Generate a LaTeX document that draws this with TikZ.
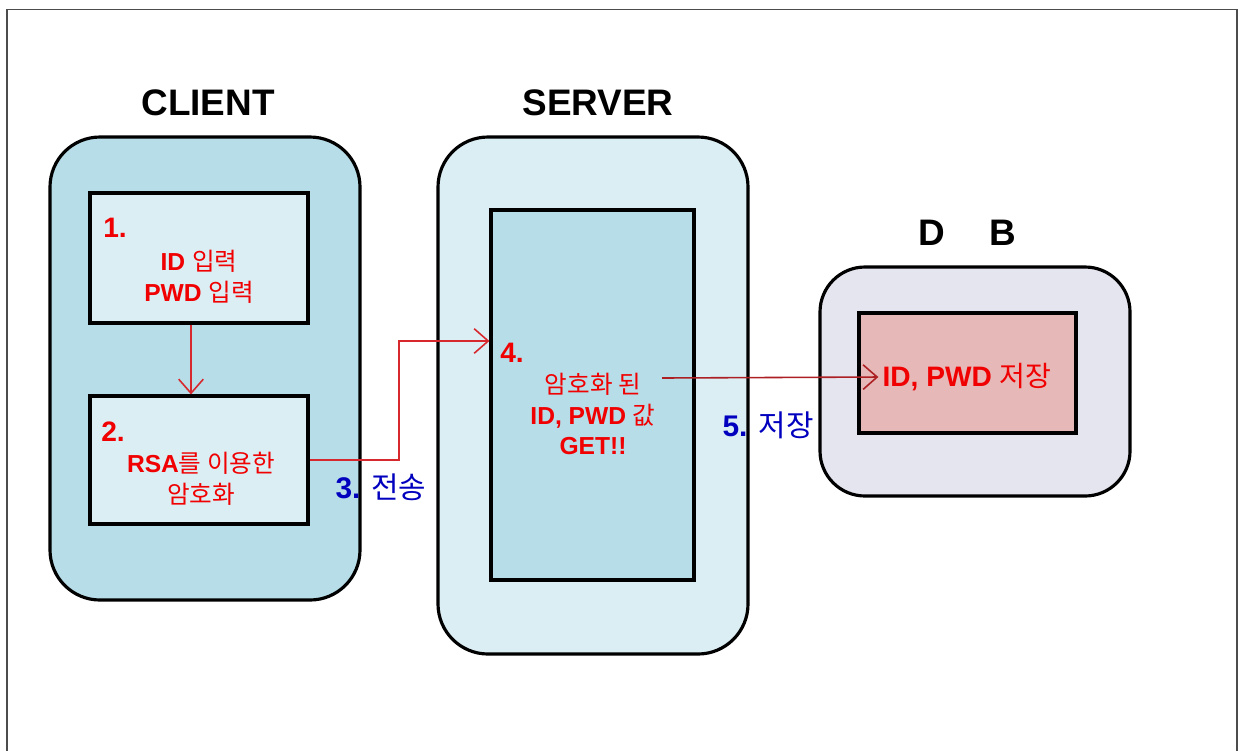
\documentclass[tikz,border=0pt]{standalone}
\usepackage{fontspec}
\setmainfont{Liberation Sans}
\newfontfamily\hangul{Noto Sans CJK KR}
\usepackage{tikz}
\usetikzlibrary{arrows.meta,positioning,calc}
\definecolor{paleblue}{RGB}{219,238,244}
\definecolor{midblue}{RGB}{183,221,232}
\definecolor{lavender}{RGB}{229,229,240}
\definecolor{rosefill}{RGB}{230,184,183}
\definecolor{txtred}{RGB}{240,0,0}
\definecolor{txtblue}{RGB}{0,0,190}
\definecolor{linered}{RGB}{215,40,45}

\begin{document}
\begin{tikzpicture}[>={Straight Barb[length=4pt,width=7pt]},
    outer/.style={draw,line width=0.9pt,rounded corners=0.5cm,minimum width=3.1cm,inner sep=0pt},
    inner/.style={draw,line width=0.9pt,inner sep=0pt},
    title/.style={font=\fontsize{10.5}{13}\selectfont\bfseries},
    redtxt/.style={text=txtred,font=\fontsize{7}{8.8}\selectfont,align=center},
    stepnum/.style={text=txtred,font=\fontsize{8}{9}\selectfont\bfseries},
    bluetxt/.style={text=txtblue,font=\fontsize{8.5}{10}\selectfont},
    flow/.style={->,linered,line width=0.45pt}]
    \useasboundingbox (0,0) rectangle (12.42,-7.5);
    % page frame
    \draw[line width=0.4pt,black!70] (0.07,-7.7) -- (0.07,-0.095) -- (12.37,-0.095) -- (12.37,-7.7);
    % client
    \node[outer,fill=midblue,minimum height=4.63cm] (client) at (2.05,-3.685) {};
    \node[title] (clientlbl) at (2.08,-1.03) {CLIENT};
    \node[inner,fill=paleblue,minimum width=2.18cm,minimum height=1.30cm] (box1) at (1.99,-2.58) {};
    \node[inner,fill=paleblue,minimum width=2.18cm,minimum height=1.28cm] (box2) at (1.99,-4.60) {};
    \node[stepnum] (n1) at (1.15,-2.28) {1.};
    \node[redtxt] (t1) at (1.99,-2.765) {\textbf{ID} {\hangul 입력}\\\textbf{PWD} {\hangul 입력}};
    \node[stepnum] (n2) at (1.13,-4.32) {2.};
    \node[redtxt] (t2) at (2.01,-4.79) {\textbf{RSA}{\hangul 를 이용한}\\{\hangul 암호화}};
    % server
    \node[outer,fill=paleblue,minimum height=5.17cm] (server) at (5.93,-3.955) {};
    \node[title] (serverlbl) at (5.98,-1.03) {SERVER};
    \node[inner,fill=midblue,minimum width=2.03cm,minimum height=3.70cm] (sinner) at (5.925,-3.95) {};
    \node[stepnum] (n4) at (5.12,-3.53) {4.};
    \node[redtxt] (t4) at (5.93,-4.14) {{\hangul 암호화 된}\\\textbf{ID, PWD} {\hangul 값}\\\textbf{GET!!}};
    % db
    \node[outer,fill=lavender,rounded corners=0.45cm,minimum height=2.29cm] (db) at (9.75,-3.815) {};
    \node[title] (dblbl) at (9.67,-2.33) {D\hspace{1.2em}B};
    \node[inner,fill=rosefill,minimum width=2.17cm,minimum height=1.20cm] (dbinner) at (9.675,-3.73) {};
    \node[redtxt,font=\fontsize{8}{9}\selectfont,inner sep=1pt] (dbtxt) at (9.67,-3.77) {\textbf{ID, PWD} {\hangul 저장}};
    % step labels
    \node[bluetxt] (s3) at (3.81,-4.87) {\textbf{3.} {\hangul 전송}};
    \node[bluetxt] (s5) at (7.68,-4.25) {\textbf{5.} {\hangul 저장}};
    % connectors
    \draw[flow] ([xshift=-0.08cm]box1.south) -- ([xshift=-0.08cm]box2.north);
    \coordinate (hop) at (3.99,-3.41);
    \draw[flow] (box2.east) -| (hop) -- (hop -| sinner.west);
    \coordinate (getpt) at (6.62,-3.78);
    \draw[flow,color=linered!80!black] (getpt) -- (dbtxt.west);
\end{tikzpicture}
\end{document}
